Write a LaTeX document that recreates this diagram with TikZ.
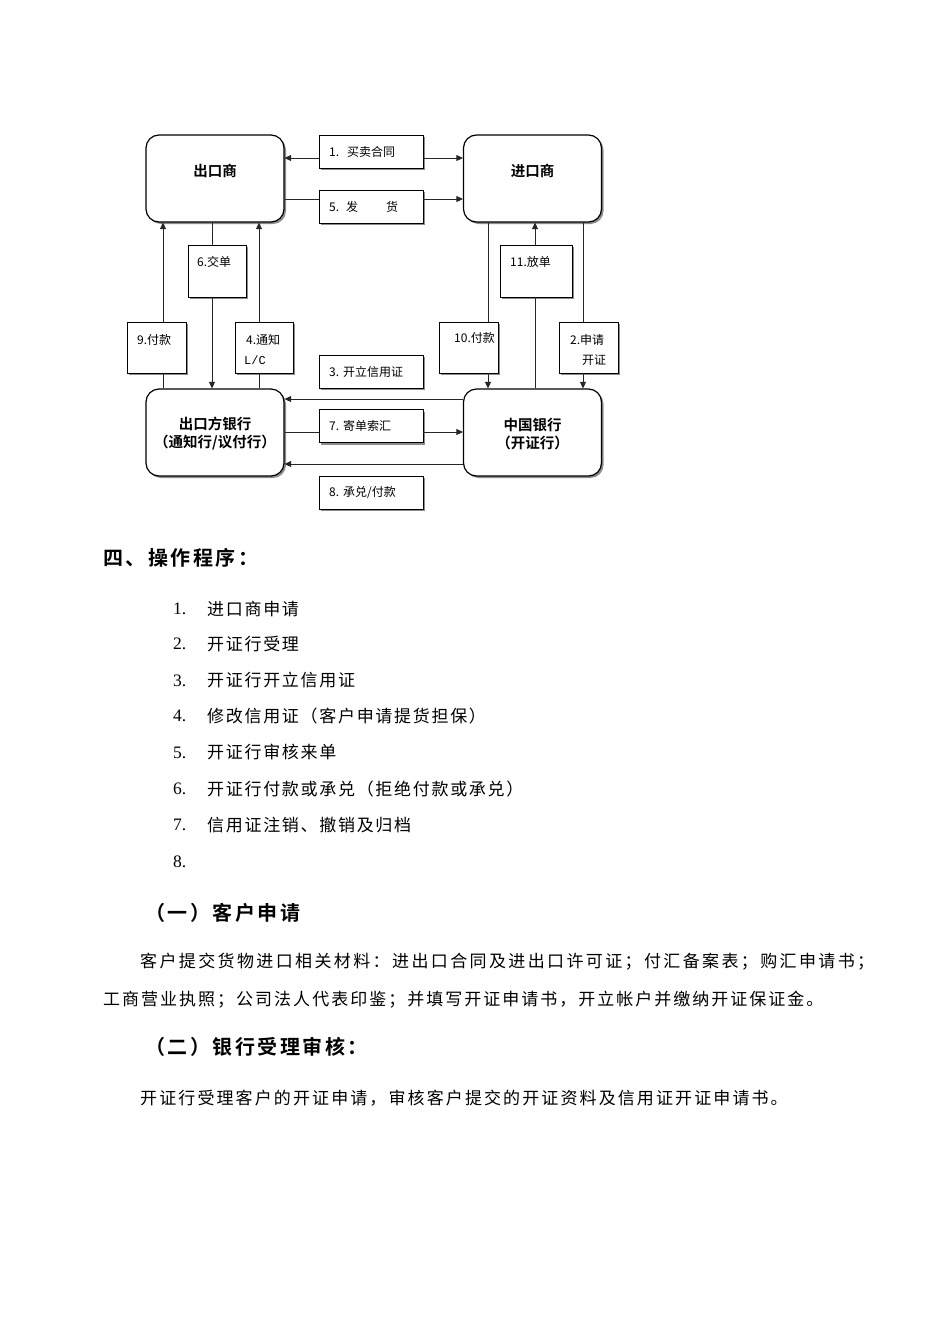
\documentclass[tikz,border=0pt]{standalone}
\usepackage{fontspec}
\setmainfont[BoldFont={Noto Sans CJK SC Bold}]{Noto Sans CJK SC}
\newfontfamily\numfont{Liberation Serif}
\newfontfamily\monofont{Liberation Mono}
\usetikzlibrary{arrows.meta,shadows}
\tikzset{
  bigbox/.style={draw=black, line width=1.2pt, rounded corners=13pt, fill=white,
    minimum width=138pt, minimum height=87pt, inner sep=0pt,
    drop shadow={shadow xshift=2pt, shadow yshift=-2pt, fill=black!45, opacity=1}},
  lbox/.style={draw=black, line width=0.8pt, fill=white, inner sep=0pt,
    drop shadow={shadow xshift=2pt, shadow yshift=-2pt, fill=black!45, opacity=1}},
  wbox/.style={lbox, minimum width=104pt, minimum height=33pt},
  vbox/.style={lbox, minimum width=58pt, minimum height=51pt},
  conn/.style={line width=0.9pt, draw=black!85},
  arr/.style={conn, -{Triangle[length=6.5pt,width=6pt]}},
  dtxt/.style={inner sep=0pt, anchor=west, font=\fontsize{12}{14}\selectfont},
  ttl/.style={inner sep=0pt, align=center, font=\bfseries\fontsize{14.5}{18}\selectfont},
  hd/.style={inner sep=0pt, anchor=west, font=\bfseries\fontsize{20}{24}\selectfont\addfontfeature{LetterSpace=12.5}},
  num/.style={inner sep=0pt, anchor=west, font=\numfont\fontsize{17.5}{20}\selectfont},
  item/.style={inner sep=0pt, anchor=west, font=\fontsize{17}{20}\selectfont\addfontfeature{LetterSpace=10}},
}
\begin{document}
\begin{tikzpicture}[x=1pt,y=-1pt]
\fill[white] (0,0) rectangle (950,1344);
\useasboundingbox (0,0) rectangle (950,1344);

% main boxes
\node[bigbox] (ck) at (215,178.5) {};
\node[bigbox] (jk) at (532.5,178.5) {};
\node[bigbox] (ckb) at (215,432.5) {};
\node[bigbox] (zg) at (532.5,432.5) {};
\node[ttl] (ckT) at (215,171) {出口商};
\node[ttl] (jkT) at (532.5,171) {进口商};
\node[ttl] (ckbT) at (215,434) {出口方银行\\（通知行/议付行）};
\node[ttl] (zgT) at (532.5,434) {中国银行\\（开证行）};

% label boxes
\node[wbox] (b1) at (371,151.5) {};
\node[wbox] (b5) at (371,206.5) {};
\node[wbox] (b3) at (371,371.5) {};
\node[wbox] (b7) at (371,426) {};
\node[wbox] (b8) at (371,492.5) {};
\node[vbox, minimum width=58pt, minimum height=52pt] (b6) at (217,271) {};
\node[vbox, minimum width=72pt, minimum height=52pt] (b11) at (536,271) {};
\node[vbox, minimum width=59pt] (b9) at (156.5,347.5) {};
\node[vbox] (b4) at (264,347.5) {};
\node[vbox, minimum width=59pt] (b10) at (468.5,347.5) {};
\node[vbox, minimum width=59pt] (b2) at (588.5,347.5) {};

% label texts
\node[dtxt] (t1) at (329,152) {1.\hspace{8pt}买卖合同};
\node[dtxt] (t5) at (329,207) {5.\hspace{7pt}发\hspace{28pt}货};
\node[dtxt] (t3) at (329,372) {3.\hspace{4pt}开立信用证};
\node[dtxt] (t7) at (329,426) {7.\hspace{4pt}寄单索汇};
\node[dtxt] (t8) at (329,493) {8.\hspace{4pt}承兑/付款};
\node[dtxt] (t6) at (197,262) {6.交单};
\node[dtxt] (t11) at (510,262) {11.放单};
\node[dtxt] (t9) at (137,340) {9.付款};
\node[dtxt] (t4) at (246,340) {4.通知};
\node[dtxt, font=\monofont\fontsize{12}{14}\selectfont] (t4b) at (244,360) {L/C};
\node[dtxt] (t10) at (454,338) {10.付款};
\node[dtxt] (t2) at (570,340) {2.申请};
\node[dtxt] (t2b) at (582,360) {开证};

% level coordinates
\coordinate (r1) at (0,158);
\coordinate (r5) at (0,199);
\coordinate (r3) at (0,399);
\coordinate (r7) at (0,432);
\coordinate (r8) at (0,464);
\coordinate (c9) at (163,0);
\coordinate (c6) at (212,0);
\coordinate (c4) at (259,0);
\coordinate (c10) at (488,0);
\coordinate (c11) at (535,0);
\coordinate (c2) at (583,0);

% horizontal connectors
\draw[arr] (b1.west |- r1) -- (ck.east |- r1);
\draw[arr] (b1.east |- r1) -- (jk.west |- r1);
\draw[conn] (ck.east |- r5) -- (b5.west |- r5);
\draw[arr] (b5.east |- r5) -- (jk.west |- r5);
\draw[arr] (zg.west |- r3) -- (ckb.east |- r3);
\draw[conn] (ckb.east |- r7) -- (b7.west |- r7);
\draw[arr] (b7.east |- r7) -- (zg.west |- r7);
\draw[arr] (zg.west |- r8) -- (ckb.east |- r8);

% vertical connectors
\draw[conn] (ckb.north -| c9) -- (b9.south -| c9);
\draw[arr] (b9.north -| c9) -- (ck.south -| c9);
\draw[conn] (ck.south -| c6) -- (b6.north -| c6);
\draw[arr] (b6.south -| c6) -- (ckb.north -| c6);
\draw[conn] (ckb.north -| c4) -- (b4.south -| c4);
\draw[arr] (b4.north -| c4) -- (ck.south -| c4);
\draw[conn] (jk.south -| c10) -- (b10.north -| c10);
\draw[arr] (b10.south -| c10) -- (zg.north -| c10);
\draw[conn] (zg.north -| c11) -- (b11.south -| c11);
\draw[arr] (b11.north -| c11) -- (jk.south -| c11);
\draw[conn] (jk.south -| c2) -- (b2.north -| c2);
\draw[arr] (b2.south -| c2) -- (zg.north -| c2);

% text section
\node[hd] (h4) at (103,558) {四、操作程序：};
\node[num] (n1) at (173,609) {1.};
\node[num] (n2) at (173,644) {2.};
\node[num] (n3) at (173,680.5) {3.};
\node[num] (n4) at (173,716) {4.};
\node[num] (n5) at (173,752.5) {5.};
\node[num] (n6) at (173,789) {6.};
\node[num] (n7) at (173,825) {7.};
\node[num] (n8) at (173,861.5) {8.};
\node[item] (i1) at (207,609) {进口商申请};
\node[item] (i2) at (207,644) {开证行受理};
\node[item] (i3) at (207,680.5) {开证行开立信用证};
\node[item] (i4) at (207,716) {修改信用证（客户申请提货担保）};
\node[item] (i5) at (207,752.5) {开证行审核来单};
\node[item] (i6) at (207,789) {开证行付款或承兑（拒绝付款或承兑）};
\node[item] (i7) at (207,825) {信用证注销、撤销及归档};

\node[hd] (h1) at (145,913) {（一）客户申请};
\node[inner sep=0pt, anchor=west, font=\fontsize{17}{20}\selectfont\addfontfeature{LetterSpace=14}] (p1) at (140,962) {客户提交货物进口相关材料：进出口合同及进出口许可证；付汇备案表；购汇申请书；};
\node[inner sep=0pt, anchor=west, font=\fontsize{17}{20}\selectfont\addfontfeature{LetterSpace=11.8}] (p2) at (103,1000) {工商营业执照；公司法人代表印鉴；并填写开证申请书，开立帐户并缴纳开证保证金。};
\node[hd] (h2) at (145,1047) {（二）银行受理审核：};
\node[inner sep=0pt, anchor=west, font=\fontsize{17}{20}\selectfont\addfontfeature{LetterSpace=12.4}] (p3) at (140,1098) {开证行受理客户的开证申请，审核客户提交的开证资料及信用证开证申请书。};
\end{tikzpicture}
\end{document}
